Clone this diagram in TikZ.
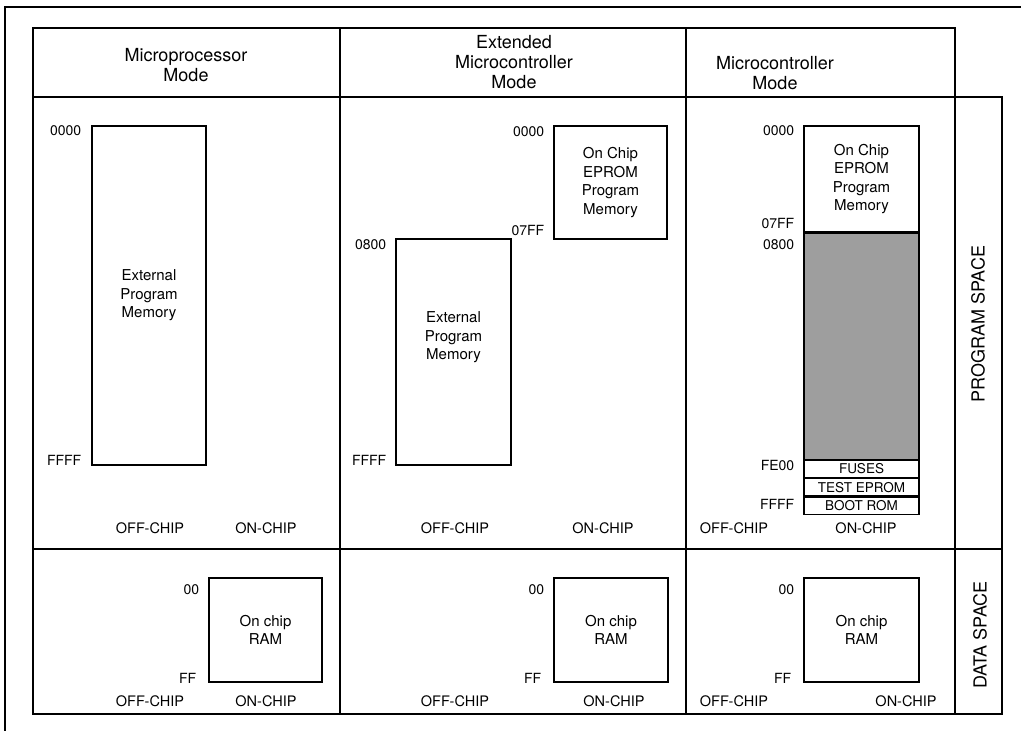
\documentclass[tikz,border=0pt]{standalone}
\usepackage{fontspec}
\setmainfont{TeX Gyre Heros}
\usetikzlibrary{positioning}

\begin{document}
\begin{tikzpicture}[
    x=1pt, y=-1pt,
    frame/.style={line width=1.3pt},
    mem/.style={rectangle, draw, line width=1.1pt, inner sep=0pt, align=center, font=\fontsize{15}{18.5}\selectfont},
    rom/.style={mem, minimum width=115, minimum height=17.3, font=\fontsize{13.5}{14}\selectfont},
    addr/.style={inner sep=0pt, font=\fontsize{14}{16}\selectfont},
    side/.style={inner sep=0pt, font=\fontsize{14.5}{17}\selectfont},
    head/.style={align=center, font=\fontsize{18}{20}\selectfont},
    spacelabel/.style={rotate=90, font=\fontsize{18}{20}\selectfont}
  ]
    \useasboundingbox (0,0) rectangle (1021,731);

    % frame and table
    \draw[frame] (5,731) -- (5,7) -- (1021,7);
    \draw[frame] (33,28) rectangle (955,714);
    \draw[frame] (33,97) -- (1002,97) -- (1002,714) -- (955,714);
    \draw[frame] (33,549) -- (1002,549);
    \draw[frame] (340,28) -- (340,714);
    \draw[frame] (686,28) -- (686,714);

    \node[head] (h1) at (186,65) {Microprocessor\\Mode};
    \node[head] (h2) at (514,62) {Extended\\Microcontroller\\Mode};
    \node[head] (h3) at (775,73) {Microcontroller\\Mode};
    \node[spacelabel] (prog) at (978,324) {PROGRAM SPACE};
    \node[spacelabel] (data) at (980,635) {DATA SPACE};

    % program space
    \node[mem, minimum width=114, minimum height=339] (ext1) at (149,295.5) {External\\Program\\Memory};
    \node[mem, minimum width=115, minimum height=226] (ext2) at (453.5,352) {External\\Program\\Memory\\[14pt]};
    \node[mem, minimum width=113, minimum height=113] (eprom2) at (610.5,182.5) {On Chip\\EPROM\\Program\\Memory};
    \node[mem, minimum width=115, minimum height=106] (eprom3) at (861.5,179) {On Chip\\EPROM\\Program\\Memory};
    \node[mem, fill=black!38, minimum width=115, minimum height=226, below=0pt of eprom3] (shade3) {};
    \node[rom, below=0pt of shade3] (fuses) {FUSES};
    \node[rom, below=0pt of fuses] (testrom) {TEST EPROM};
    \node[rom, below=0pt of testrom] (bootrom) {BOOT ROM};

    \node[addr, left=10pt of ext1.north west, yshift=-5pt] {0000};
    \node[addr, left=10pt of ext1.south west, yshift=5pt] {FFFF};
    \node[addr, left=9pt of ext2.north west, yshift=-6pt] {0800};
    \node[addr, left=9pt of ext2.south west, yshift=5pt] {FFFF};
    \node[addr, left=9pt of eprom2.north west, yshift=-6pt] {0000};
    \node[addr, left=9pt of eprom2.south west, yshift=9pt] {07FF};
    \node[addr, left=9pt of eprom3.north west, yshift=-5pt] {0000};
    \node[addr, left=9pt of eprom3.south west, yshift=9pt] {07FF};
    \node[addr, left=9pt of shade3.north west, yshift=-12pt] {0800};
    \node[addr, left=9pt of fuses.north west, yshift=-6pt] {FE00};
    \node[addr, left=9pt of bootrom.south west, yshift=10pt] {FFFF};

    \node[side] (off1) at (150,528) {OFF-CHIP};
    \node[side] (on1) at (266,528) {ON-CHIP};
    \node[side] (off2) at (455,528) {OFF-CHIP};
    \node[side] (on2) at (603,528) {ON-CHIP};
    \node[side] (off3) at (734,528) {OFF-CHIP};
    \node[side] (on3) at (866,528) {ON-CHIP};

    % data space
    \node[mem, minimum width=113, minimum height=104] (ram1) at (265.5,630) {On chip\\RAM};
    \node[mem, minimum width=114, minimum height=104] (ram2) at (611,630) {On chip\\RAM};
    \node[mem, minimum width=115, minimum height=104] (ram3) at (861.5,630) {On chip\\RAM};
    \foreach \r in {ram1,ram2,ram3} {
      \node[addr, left=9pt of \r.north west, yshift=-12pt] {00};
      \node[addr, left=12pt of \r.south west, yshift=4pt] {FF};
    }

    \node[side] (doff1) at (150,701) {OFF-CHIP};
    \node[side] (don1) at (266,701) {ON-CHIP};
    \node[side] (doff2) at (455,701) {OFF-CHIP};
    \node[side] (don2) at (614,701) {ON-CHIP};
    \node[side] (doff3) at (734,701) {OFF-CHIP};
    \node[side] (don3) at (906,701) {ON-CHIP};
  \end{tikzpicture}
\end{document}
